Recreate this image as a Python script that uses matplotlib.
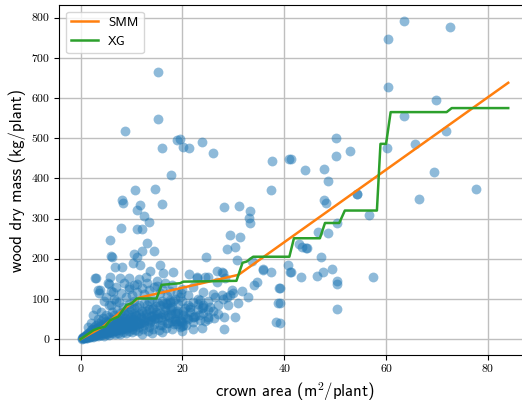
import numpy as np
import matplotlib.pyplot as plt

plt.rcParams['mathtext.fontset'] = 'cm'

# scattered plants (crown area m2, wood dry mass kg)
outer_x = [15.2, 63.6, 60.3, 72.6, 60.4, 69.9, 63.5, 71.7, 65.6, 60.1, 69.4, 77.6, 54.2, 66.5,
           41.3, 44.1, 47.9, 48.6, 50.2, 50.2, 52.9, 47.9, 15.2, 8.7, 19.5, 19.0, 20.2, 21.3,
           16.0, 23.8, 25.9, 37.6, 40.9, 17.7, 10.7, 14.6, 37.4, 8.1, 8.3, 11.7, 11.0, 15.9,
           12.4, 13.4, 28.2, 31.2, 33.3, 33.1, 33.3, 8.0, 11.0, 12.0, 5.8, 13.0, 12.0, 14.5,
           5.9, 10.5, 11.1, 29.4, 31.4, 28.7, 30.3, 24.6, 30.7, 8.1, 10.2, 11.7, 15.6, 3.1,
           6.7, 5.8, 7.7, 9.5, 13.6, 16.1, 18.2, 12.8, 14.9, 11.0, 9.4, 5.6, 3.8, 3.6, 6.4,
           21.3, 26.7, 28.0, 28.4, 22.9, 25.1, 26.8, 31.6, 32.9, 35.8, 34.6, 39.0, 38.8, 38.4,
           40.8, 19.8, 17.5, 21.5, 23.8, 26.1, 28.2, 23.8, 28.2, 20.0, 30.3, 31.0, 29.0, 25.1,
           22.1, 23.4, 25.4, 26.4, 28.7, 30.0, 48.2, 54.3, 56.7, 50.3, 46.6, 48.5, 42.8, 43.5,
           44.4, 47.3, 41.3, 43.3, 46.5, 47.7, 49.4, 50.3, 50.3, 57.4, 39.2, 39.2, 50.4, 39.2,
           33.7, 35.9, 37.4, 27.8, 24.4, 22.8, 34.0, 41.1, 44.2, 29.3, 27.7, 19.5, 24.1, 20.5,
           20.2, 29.7, 6.1, 2.8, 5.4, 3.5]
outer_y = [664, 793, 748, 776, 628, 594, 555, 517, 486, 475, 416, 373, 362, 348,
           449, 420, 423, 394, 500, 455, 468, 347, 547, 518, 498, 496, 477, 476,
           475, 491, 462, 444, 448, 409, 370, 373, 372, 347, 338, 334, 322, 336,
           307, 291, 328, 332, 319, 302, 288, 276, 274, 274, 247, 239, 219, 220,
           207, 211, 205, 259, 253, 224, 230, 204, 197, 180, 189, 185, 185, 151,
           179, 155, 151, 151, 170, 164, 166, 154, 132, 137, 130, 136, 122, 114, 118,
           162, 170, 165, 151, 154, 155, 143, 120, 105, 174, 143, 128, 89, 42,
           185, 115, 97, 81, 77, 53, 54, 28, 25, 32, 56, 89, 85, 49,
           56, 97, 81, 105, 105, 114, 338, 362, 309, 290, 266, 265, 236, 230,
           226, 205, 167, 154, 158, 167, 175, 145, 137, 154, 128, 89, 76, 41,
           195, 172, 166, 166, 155, 151, 135, 166, 227, 110, 110, 105, 85, 56,
           35, 122, 205, 151, 139, 122]

# dense cloud near the origin (estimated)
core_x = [0.2, 0.3, 0.4, 0.5, 0.6, 0.7, 0.8, 0.9, 1.0, 1.0, 1.1, 1.2, 1.3, 1.4, 1.5, 1.6, 1.7,
          1.8, 1.9, 2.0, 2.0, 2.1, 2.2, 2.3, 2.4, 2.5, 2.6, 2.7, 2.8, 2.9, 3.0, 3.0, 3.1, 3.2,
          3.3, 3.4, 3.5, 3.6, 3.7, 3.8, 3.9, 4.0, 4.1, 4.2, 4.3, 4.4, 4.5, 4.6, 4.7, 4.8, 4.9,
          5.0, 5.1, 5.2, 5.3, 5.4, 5.5, 5.6, 5.7, 5.8, 5.9, 6.0, 6.1, 6.2, 6.3, 6.4, 6.5, 6.6,
          6.7, 6.8, 6.9, 7.0, 7.1, 7.2, 7.3, 7.4, 7.5, 7.6, 7.7, 7.8, 7.9, 8.0, 8.1, 8.2, 8.3,
          8.4, 8.5, 8.6, 8.7, 8.8, 8.9, 9.0, 9.1, 9.2, 9.3, 9.4, 9.5, 9.6, 9.7, 9.8, 9.9, 10.0,
          10.1, 10.2, 10.3, 10.4, 10.5, 10.6, 10.7, 10.8, 10.9, 11.0, 11.2, 11.4, 11.6, 11.8,
          12.0, 12.2, 12.4, 12.6, 12.8, 13.0, 13.2, 13.4, 13.6, 13.8, 14.0, 14.2, 14.4, 14.6,
          14.8, 15.0, 15.3, 15.6, 15.9, 16.2, 16.5, 16.8, 17.1, 17.4, 17.7, 18.0, 18.3, 18.6,
          18.9, 19.2, 19.5, 19.8, 20.1, 20.4, 20.7, 21.0, 21.5, 22.0, 22.5, 23.0, 23.5, 24.0,
          25.0, 26.0, 27.0]
core_y = [1, 3, 2, 5, 2, 6, 4, 8, 3, 10, 6, 12, 4, 9, 15, 7, 11,
          18, 5, 13, 22, 9, 16, 26, 6, 12, 20, 30, 8, 15, 24, 35, 10, 18,
          28, 40, 7, 14, 22, 32, 45, 10, 18, 27, 38, 52, 8, 15, 24, 34, 46,
          60, 12, 20, 30, 42, 55, 10, 17, 26, 37, 50, 68, 14, 22, 33, 45, 60,
          12, 19, 29, 40, 53, 72, 16, 25, 36, 48, 64, 13, 22, 32, 44, 58, 80,
          18, 28, 39, 52, 70, 15, 24, 35, 47, 62, 88, 20, 30, 42, 56, 75, 17,
          26, 38, 50, 66, 95, 22, 33, 45, 60, 80, 19, 29, 40, 54,
          70, 24, 35, 48, 63, 85, 21, 31, 43, 57, 75, 26, 38, 52,
          68, 92, 23, 34, 47, 62, 80, 28, 40, 55, 72, 25, 37, 50,
          66, 88, 30, 44, 60, 78, 35, 50, 68, 42, 58, 75, 48, 65,
          55, 70, 62]

# second layer of the dense cloud, as (area, mass) pairs
core2 = [(0.5, 2), (0.8, 5), (1.2, 3), (1.5, 8), (1.8, 6), (2.2, 11), (2.5, 7), (2.8, 14),
         (3.2, 9), (3.5, 17), (3.8, 11), (4.2, 20), (4.5, 13), (4.8, 23), (5.2, 15), (5.5, 27),
         (5.8, 17), (6.2, 30), (6.5, 20), (6.8, 34), (7.2, 22), (7.5, 38), (7.8, 25), (8.2, 42),
         (8.5, 27), (8.8, 46), (9.2, 30), (9.5, 50), (9.8, 32), (10.2, 54), (10.5, 35), (10.8, 58),
         (11.2, 37), (11.5, 62), (11.8, 40), (12.2, 66), (12.5, 42), (12.8, 70), (13.2, 45),
         (13.5, 74), (13.8, 47), (14.2, 78), (14.5, 50), (14.8, 82), (15.2, 52), (15.5, 85),
         (15.8, 55), (16.2, 88), (16.5, 57), (16.8, 90), (17.2, 60), (17.5, 92), (17.8, 62),
         (18.2, 95), (18.5, 64), (18.8, 45), (19.2, 66), (19.6, 48), (20.2, 70), (20.8, 52),
         (21.4, 74), (22.2, 55), (23.2, 60), (24.5, 45),
         (1, 4), (2, 8), (3, 12), (4, 16), (5, 21), (6, 25), (7, 29), (8, 33), (9, 38), (10, 42),
         (11, 46), (12, 50), (13, 54), (14, 58), (15, 62), (16, 36), (17, 40), (18, 44), (19, 38),
         (20, 42), (2.5, 16), (3.5, 25), (4.5, 32), (5.5, 40), (6.5, 48), (7.5, 56), (8.5, 64),
         (9.5, 72), (10.5, 78), (11.5, 84), (12.5, 90), (13.5, 96), (14.5, 60), (15.5, 66),
         (16.5, 72), (17.5, 78)]

mid_x = [4.5, 5.0, 5.5, 6.0, 6.5, 7.0, 7.5, 8.0, 8.5, 9.0, 9.5, 10.0, 10.5, 11.0, 11.5, 12.0,
         12.5, 13.0, 13.5, 14.0, 14.5, 15.0, 15.5, 16.0, 16.5, 17.0, 17.5, 18.0, 18.5, 19.0,
         20.0, 21.0, 22.0, 23.0, 24.0, 25.0, 26.0, 27.0, 28.0, 2.5, 3.0, 3.5, 4.0, 2.0, 1.5,
         6.0, 7.0, 16.0, 17.0, 18.0, 19.0, 20.0, 21.0, 22.0, 23.0, 24.0, 25.0, 18.5, 20.0,
         16.0, 14.0, 12.0, 22.0]
mid_y = [95, 105, 85, 120, 100, 130, 92, 115, 140, 105, 125, 110, 135, 118, 150, 128,
         112, 140, 122, 100, 130, 145, 115, 125, 140, 108, 120, 135, 100, 115,
         125, 110, 130, 100, 118, 95, 112, 85, 100, 60, 75, 50, 68, 40, 30,
         85, 95, 95, 88, 80, 70, 95, 85, 92, 88, 80, 72, 45, 20,
         18, 15, 12, 25]

crown = outer_x + core_x + [p[0] for p in core2] + mid_x
wood = outer_y + core_y + [p[1] for p in core2] + mid_y

smm_x = [0, 4.4, 9, 11.5, 31, 84]
smm_y = [0, 31, 80, 103, 160, 638]

xg_x = [0, 2.5, 3.5, 4.8, 5.8, 7.4, 9, 10, 11, 14.9, 15.9, 19.5, 20.2, 30.6, 31.8, 32.6, 33.9,
        41.0, 41.9, 47.0, 48.0, 50.8, 51.9, 58.2, 58.9, 60.0, 60.9, 71.9, 72.9, 84]
xg_y = [0, 22, 27, 31, 47, 56, 85, 89, 101, 101, 135, 139, 143, 145, 190, 193, 205,
        205, 251, 251, 289, 289, 320, 320, 486, 486, 565, 565, 575, 575]

fig = plt.figure(figsize=(5.22, 4.03), dpi=100)
ax = fig.add_axes([59.3 / 522, 48 / 403, 470.3 / 522, 350 / 403])

ax.scatter(crown, wood, s=50, color='tab:blue', alpha=0.5, linewidths=0, zorder=2)
ax.plot(smm_x, smm_y, color='tab:orange', lw=1.8, label='SMM', zorder=3)
ax.plot(xg_x, xg_y, color='tab:green', lw=1.8, label='XG', zorder=3)

ax.set_xlim(-4.2, 88.2)
ax.set_ylim(-39.6, 831.6)
ax.set_xticks([0, 20, 40, 60, 80])
ax.set_yticks(np.arange(0, 801, 100))
ax.grid(True, color='0.75', lw=1, zorder=0)
ax.set_axisbelow(True)

for lab in ax.get_xticklabels() + ax.get_yticklabels():
    lab.set_fontfamily('cmr10')
    lab.set_fontsize(8.5)

ax.set_xlabel('crown area (m$^2$/plant)', family='cmss10', fontsize=12)
ax.set_ylabel('wood dry mass (kg/plant)', family='cmss10', fontsize=12)
ax.legend(loc='upper left', prop={'family': 'cmss10', 'size': 9.5})

fig.savefig('out.png', dpi=100)
